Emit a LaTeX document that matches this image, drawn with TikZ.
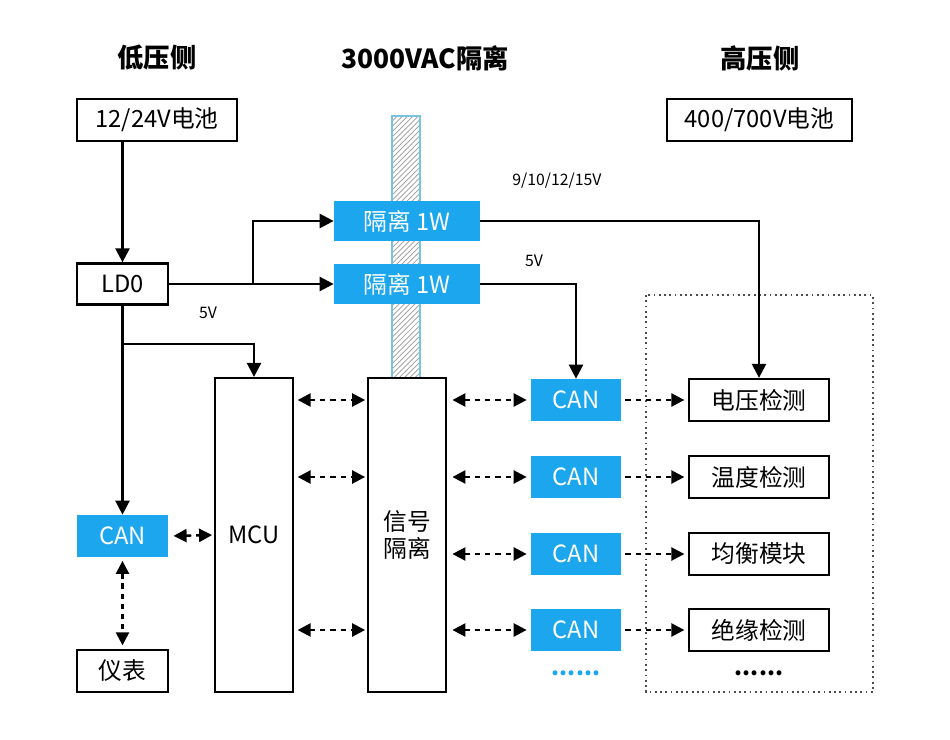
\documentclass[tikz,border=0pt]{standalone}
\usepackage{fontspec}
\setmainfont{Noto Sans CJK SC}
\usetikzlibrary{positioning,calc,arrows.meta,patterns}
\definecolor{canblue}{RGB}{27,166,238}
\definecolor{barrierblue}{RGB}{120,195,225}

\tikzset{
	box/.style={draw,line width=1.3pt,minimum height=0.84cm,inner sep=0pt,font=\fontsize{13.5}{15}\selectfont},
	bluebox/.style={fill=canblue,text=white,minimum height=0.84cm,inner sep=0pt,font=\fontsize{13.5}{15}\selectfont},
	head/.style={font=\fontsize{15}{18}\selectfont\bfseries},
	volt/.style={font=\fontsize{9}{10}\selectfont},
	power/.style={line width=1.4pt,-{Triangle[length=2.8mm,width=2.8mm]}},
	bus/.style={line width=1.4pt,dash pattern=on 3pt off 2.8pt,{Triangle[length=2.6mm,width=2.6mm]}-{Triangle[length=2.6mm,width=2.6mm]}},
	link/.style={line width=1.4pt,dash pattern=on 3pt off 2.8pt,-{Triangle[length=2.6mm,width=2.6mm]}}
}

\begin{document}
\begin{tikzpicture}[x=0.02cm,y=-0.02cm]
		\useasboundingbox (0,0) rectangle (950,740);
		
		% isolation barrier and high side frame
		\draw[barrierblue,line width=0.8pt,pattern=north east lines,pattern color=gray!80] (392,116) rectangle (420,378);
		\draw[black!70,dotted,line width=1pt] (646,295) rectangle (873,692);
		
		\node[head] (L) at (157,58) {低压侧};
		\node[head] (M) at (425,58) {3000VAC隔离};
		\node[head] (H) at (760,58) {高压侧};
		
		\node[box,fill=white,minimum width=3.2cm] (B) at (157,120) {12/24V电池};
		\node[box,fill=white,minimum width=3.7cm] (HV) at (759.5,120) {400/700V电池};
		
		\node[bluebox,minimum width=2.92cm,minimum height=0.82cm] (I1) at (407,221) {隔离 1W};
		\node[bluebox,minimum width=2.92cm,minimum height=0.82cm] (I2) at (407,284) {隔离 1W};
		
		\node[box,minimum width=1.82cm,minimum height=0.82cm] (LDO) at (122.5,284) {LD0};
		
		\node[box,fill=white,minimum width=1.56cm,minimum height=6.28cm] (MCU) at (254,535) {MCU};
		\node[box,fill=white,minimum width=1.56cm,minimum height=6.28cm,align=center] (S) at (407,535) {信号\\隔离};
		
		\node[bluebox,minimum width=1.82cm] (C0) at (122.5,536) {CAN};
		\node[box,minimum width=1.82cm] (Y) at (122.5,671) {仪表};
		
		\node[bluebox,minimum width=1.82cm] (C1) at (576,400) {CAN};
		\node[bluebox,minimum width=1.82cm] (C2) at (576,477) {CAN};
		\node[bluebox,minimum width=1.82cm] (C3) at (576,554) {CAN};
		\node[bluebox,minimum width=1.82cm] (C4) at (576,630) {CAN};
		
		\node[box,minimum width=2.8cm] (D1) at (759,400) {电压检测};
		\node[box,minimum width=2.8cm] (D2) at (759,477) {温度检测};
		\node[box,minimum width=2.8cm] (D3) at (759,554) {均衡模块};
		\node[box,minimum width=2.8cm] (D4) at (759,630) {绝缘检测};
		
		\node[text=canblue,font=\fontsize{13}{15}\selectfont\bfseries] (E1) at (576,673) {......};
		\node[font=\fontsize{13}{15}\selectfont\bfseries] (E2) at (759,673) {......};
		
		\node[volt] (V1) at (208,313) {5V};
		\node[volt] (V2) at (557,181) {9/10/12/15V};
		\node[volt] (V3) at (534,261) {5V};
		
		\coordinate (J1) at (253,284);
		\coordinate (J2) at (122,344);
		
		% supply
		\draw[power] (LDO.north |- B.south) -- (LDO.north);
		\draw[power] (LDO.east) -- (I2.west);
		\draw[power] (J1) |- (I1.west);
		\draw[power] (I1.east) -| (D1.north);
		\draw[power] (I2.east) -| (C1.north);
		\draw[power] (LDO.south) -- (C0.north);
		\draw[power] (J2) -| (MCU.north);
		
		% signals
		\draw[bus,shorten <=3pt,shorten >=1pt] (C0.east) -- (MCU.west);
		\draw[bus,shorten <=2pt,shorten >=2pt] (C0.south) -- (Y.north);
		\foreach \n in {1,2,4}
			\draw[bus,shorten <=2pt,shorten >=1pt] (MCU.east |- C\n) -- (S.west |- C\n);
		\foreach \n in {1,2,3,4}{
			\draw[bus,shorten <=3pt,shorten >=2pt] (S.east |- C\n) -- (C\n.west);
			\draw[link,shorten <=2pt,shorten >=2pt] (C\n.east) -- (D\n.west);
		}
		
\end{tikzpicture}
\end{document}
